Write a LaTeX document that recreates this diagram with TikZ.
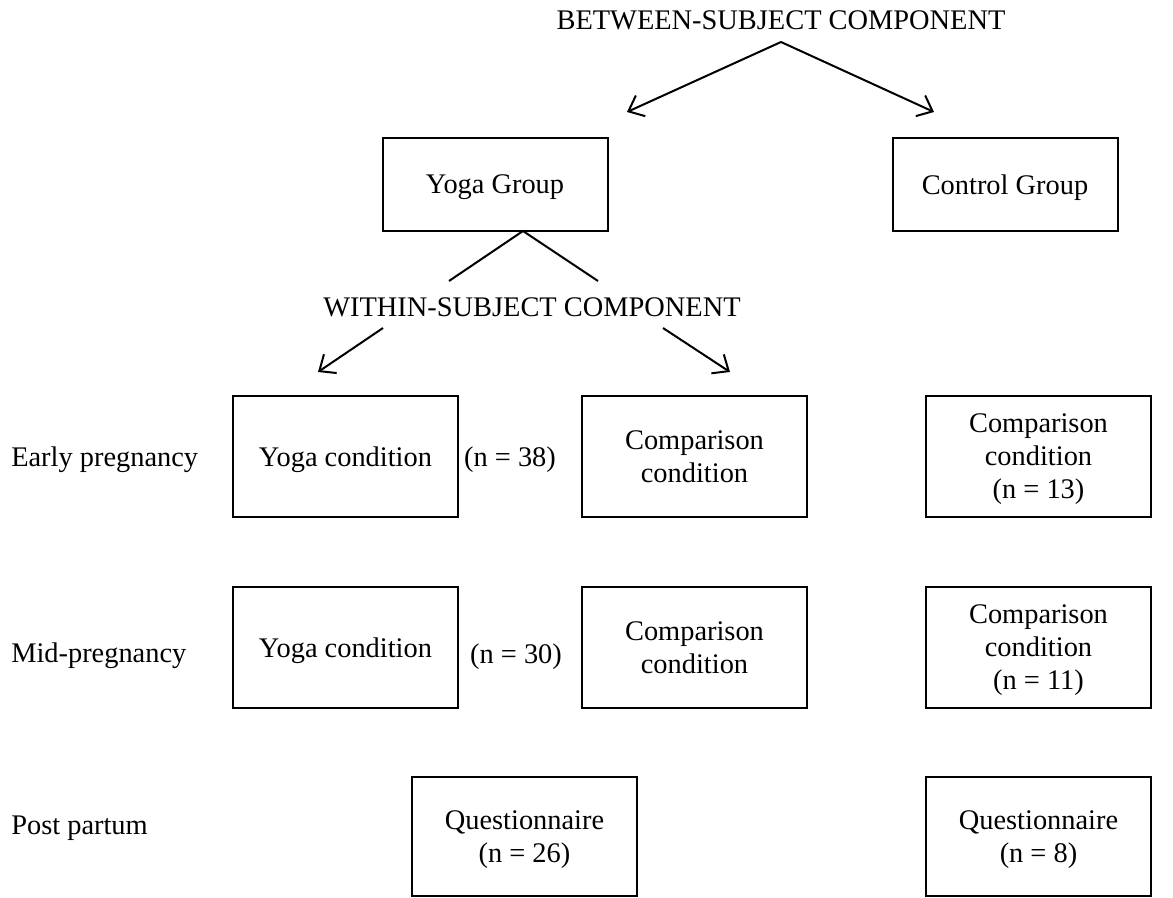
\documentclass[tikz,border=0pt]{standalone}
\usepackage{fontspec}
\setmainfont{Liberation Serif}
\usetikzlibrary{arrows.meta}

\tikzset{
  box/.style={draw,line width=1.5pt,minimum width=168.75pt,minimum height=90.75pt,align=center,inner sep=0pt,text depth=0pt},
  grpbox/.style={box,minimum height=69.75pt},
  qbox/.style={box,minimum height=89.25pt},
  lbl/.style={inner sep=0pt,anchor=west},
  ln/.style={line width=1.5pt},
  arr/.style={ln,-{Straight Barb[length=10pt,width=17pt,line width=1.5pt]}}
}

\begin{document}
\begin{tikzpicture}[x=0.75pt,y=-0.75pt,font=\fontsize{21.3}{24.75}\selectfont]
\useasboundingbox (0,0) rectangle (1173,898);
\node (between) at (781,20) {BETWEEN-SUBJECT COMPONENT};
\node[grpbox] (yogagrp) at (495,184.5) {Yoga Group};
\node[grpbox] (ctrlgrp) at (1005,184.5) {Control Group};
\node (within) at (532,307) {WITHIN-SUBJECT COMPONENT};
\coordinate (bsplit) at (781,42);
\coordinate (toyoga) at (627,112);
\coordinate (toctrl) at (934,112);
\draw[arr] (bsplit) -- (toyoga);
\draw[arr] (bsplit) -- (toctrl);
\coordinate (ysplit) at (523,231);
\coordinate (wl) at (449,281);
\coordinate (wr) at (598,281);
\draw[ln] (wl) -- (ysplit) -- (wr);
\coordinate (wsl) at (383,328);
\coordinate (wsr) at (663,328);
\coordinate (toycond) at (318,372);
\coordinate (toccond) at (730,372);
\draw[arr] (wsl) -- (toycond);
\draw[arr] (wsr) -- (toccond);
% rows
\node[lbl] (early) at (11,460) {Early pregnancy};
\node[box] (ycond1) at (345.5,456.5) {Yoga condition};
\node (n38) at (510,460) {(n = 38)};
\node[box] (ccond1) at (694.5,456.5) {Comparison\\condition};
\node[box] (ctrl1) at (1038.5,456.5) {Comparison\\condition\\(n = 13)};
\node[lbl] (mid) at (11,656) {Mid-pregnancy};
\node[box] (ycond2) at (345.5,647.5) {Yoga condition};
\node (n30) at (516,657) {(n = 30)};
\node[box] (ccond2) at (694.5,647.5) {Comparison\\condition};
\node[box] (ctrl2) at (1038.5,647.5) {Comparison\\condition\\(n = 11)};
\node[lbl] (post) at (11,828) {Post partum};
\node[qbox] (quest1) at (524.5,836.5) {Questionnaire\\(n = 26)};
\node[qbox] (quest2) at (1038.5,836.5) {Questionnaire\\(n = 8)};
\end{tikzpicture}
\end{document}
